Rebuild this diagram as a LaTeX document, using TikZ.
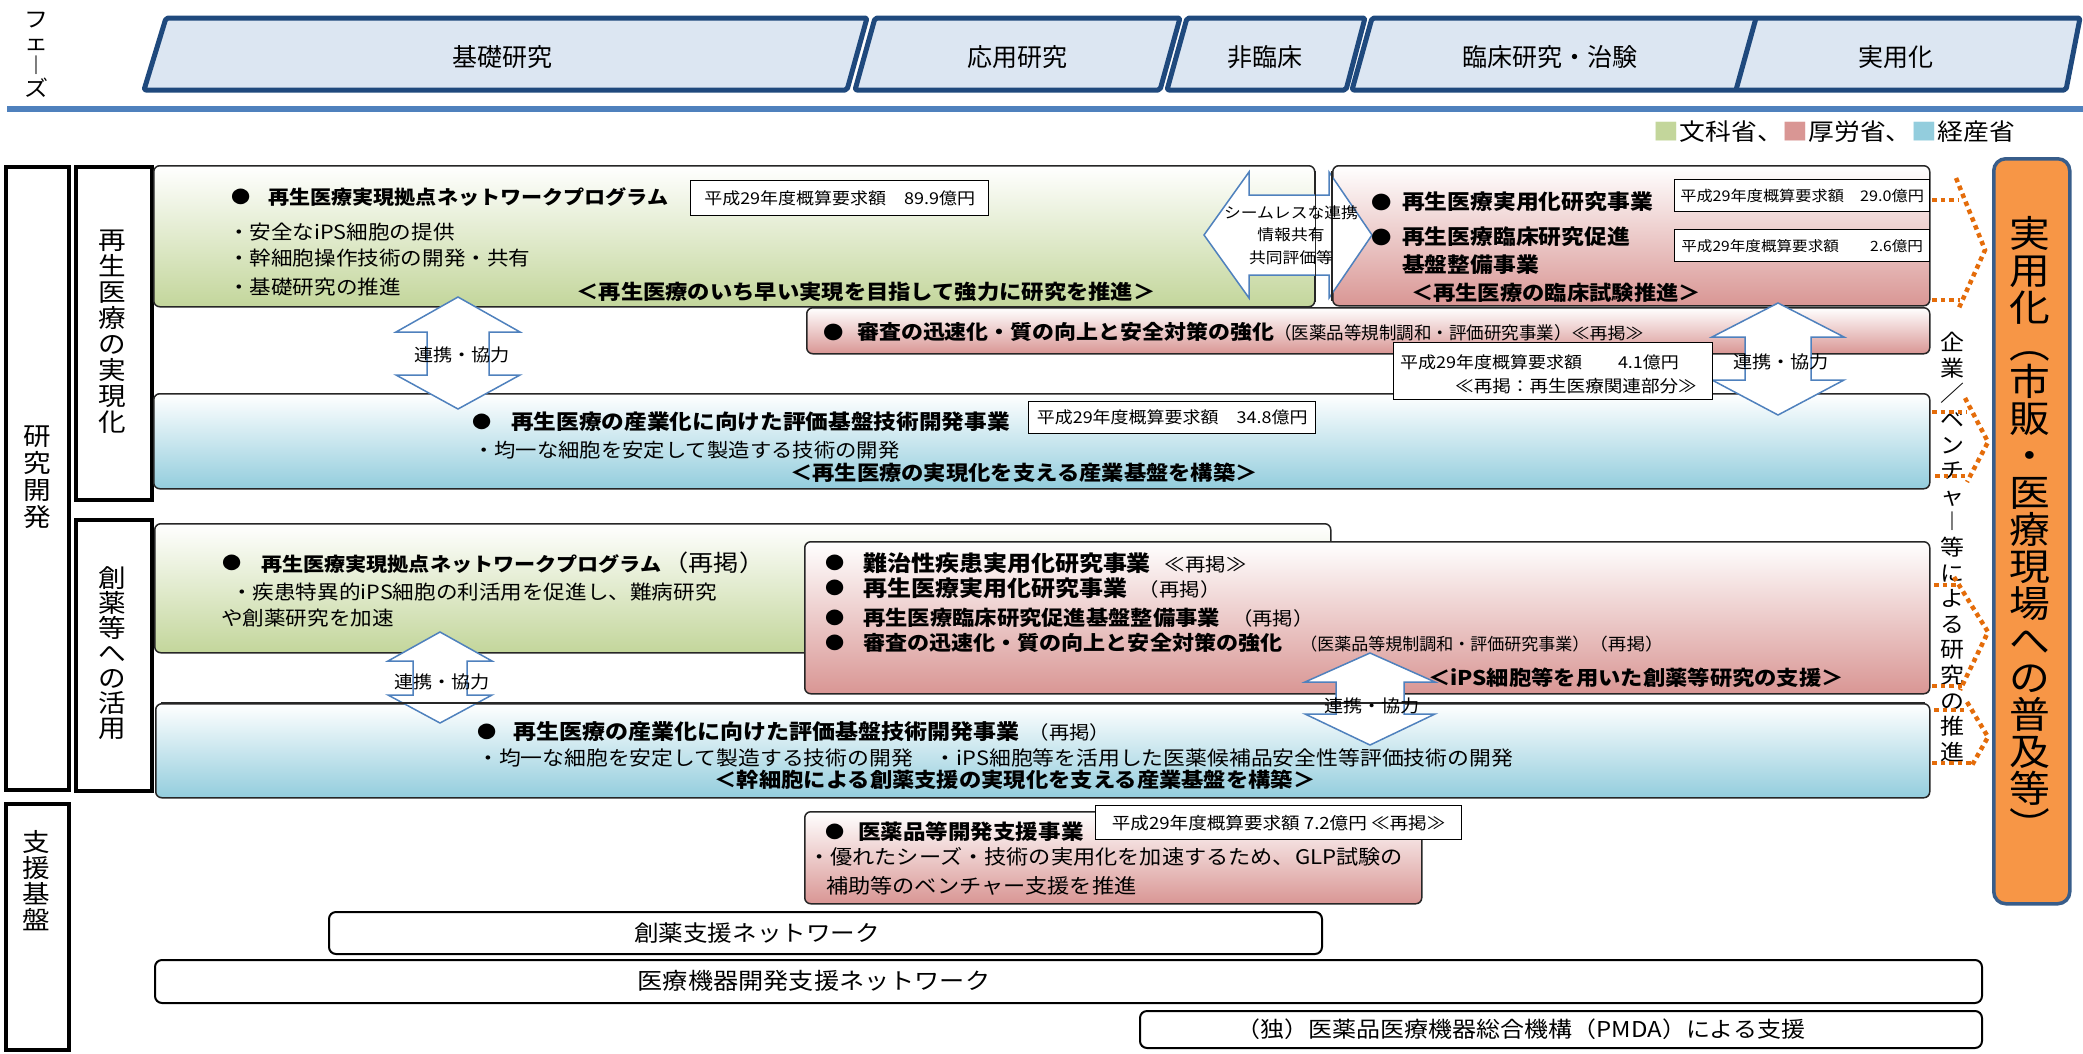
\documentclass[tikz,border=0pt]{standalone}
\usepackage{fontspec}
\setmainfont{Noto Sans CJK JP}
\newfontfamily\wide{Noto Sans CJK JP}[FakeStretch=1.1, Scale=1.09]
\definecolor{lgreen}{HTML}{C3D69B}
\definecolor{lpink}{HTML}{D99694}
\definecolor{lblue}{HTML}{93CDDD}
\definecolor{navy}{HTML}{1F497D}
\definecolor{phasefill}{HTML}{DCE6F2}
\definecolor{steel}{HTML}{4F81BD}
\definecolor{orangefill}{HTML}{F79646}
\definecolor{orangeedge}{HTML}{385D8A}
\definecolor{dotorange}{HTML}{E46C0A}
\tikzset{
 phase/.style={draw=navy, line width=5pt, fill=phasefill, rounded corners=2pt, line join=round},
 phtxt/.style={inner sep=0pt, font={\fontsize{25}{28}\selectfont}},
 labbox/.style={draw=black, line width=3.5pt, fill=white, anchor=north west, inner sep=0pt},
 vtxt/.style={align=center, inner sep=0pt},
 boxbase/.style={draw=black!85, line width=1.5pt, rounded corners=6pt, top color=white, anchor=north west, inner sep=0pt},
 gbox/.style={boxbase, bottom color=lgreen},
 pbox/.style={boxbase, bottom color=lpink},
 bbox/.style={boxbase, bottom color=lblue},
 wbox/.style={draw=black, line width=2pt, rounded corners=7pt, fill=white, anchor=north west, inner sep=0pt},
 bud/.style={draw=black, line width=1.3pt, fill=white, anchor=north west, inner sep=0pt, font={\wide\fontsize{15}{18}\selectfont}},
 budtxt/.style={inner sep=0pt, font={\wide\fontsize{15}{18}\selectfont}},
 bul/.style={inner sep=0pt, font={\wide\fontsize{16}{18}\selectfont}},
 tl/.style={anchor=west, inner sep=0pt, font={\wide\bfseries\fontsize{19}{22}\selectfont}},
 bd/.style={anchor=west, inner sep=0pt, font={\wide\fontsize{18}{22}\selectfont}},
 sl/.style={inner sep=0pt, font={\wide\bfseries\fontsize{18.6}{22}\selectfont}},
 arr/.style={draw=steel, line width=1.5pt, fill=white, line join=miter},
 arrtxt/.style={inner sep=0pt, font={\wide\fontsize{16}{19}\selectfont}},
 boxline/.style={draw=black!85, line width=1.5pt},
 dots/.style={draw=dotorange, line width=4.5pt, dash pattern=on 4.5pt off 4pt},
 bottxt/.style={inner sep=0pt, font={\wide\fontsize{21}{24}\selectfont}}
}
\begin{document}
\begin{tikzpicture}[x=1pt,y=-1pt]
\useasboundingbox (0,0) rectangle (2083,1053);

% ---------- phases ----------
\node[vtxt, font={\wide\fontsize{20}{23}\selectfont}] (phaselab) at (36,55) {フ\\ェ\\︱\\ズ};
\draw[phase] (144,90) -- (166,18) -- (867,18) -- (847,90) -- cycle;
\draw[phase] (855,90) -- (875,18) -- (1180,18) -- (1160,90) -- cycle;
\draw[phase] (1167,90) -- (1187,18) -- (1365,18) -- (1346,90) -- cycle;
\draw[phase] (1352,90) -- (1372,18) -- (2080,18) -- (2066,90) -- cycle;
\draw[phase, fill=none] (1756,18) -- (1736,90);
\node[phtxt] (ph1) at (502,57) {基礎研究};
\node[phtxt] (ph2) at (1017,57) {応用研究};
\node[phtxt] (ph3) at (1265,57) {非臨床};
\node[phtxt] (ph4) at (1550,57) {臨床研究・治験};
\node[phtxt] (ph5) at (1896,57) {実用化};
\draw[steel, line width=6pt] (7,109) -- (2083,109);
\node[anchor=east, inner sep=0pt, font={\wide\fontsize{21.5}{26}\selectfont}] (legend) at (2015,132)
 {{\color{lgreen}■}文科省、{\color{lpink}■}厚労省、{\color{lblue}■}経産省};

% ---------- left labels ----------
\node[labbox, minimum width=63pt, minimum height=623pt] (L0) at (4,165) {};
\node[labbox, minimum width=76pt, minimum height=333pt] (L1) at (74,165) {};
\node[labbox, minimum width=76pt, minimum height=271pt] (L2) at (74,518) {};
\node[labbox, minimum width=63pt, minimum height=246pt] (L3) at (4,802) {};
\node[vtxt, font={\wide\fontsize{23}{27}\selectfont}] (L0t) at (37,477) {研\\究\\開\\発};
\node[vtxt, font={\wide\fontsize{23}{26}\selectfont}] (L1t) at (112,332) {再\\生\\医\\療\\の\\実\\現\\化};
\node[vtxt, font={\wide\fontsize{23}{25}\selectfont}] (L2t) at (112,653) {創\\薬\\等\\へ\\の\\活\\用};
\node[vtxt, font={\wide\fontsize{23}{26}\selectfont}] (L3t) at (36,881) {支\\援\\基\\盤};

% ---------- boxes ----------
\node[gbox, minimum width=1161pt, minimum height=141pt] (g1) at (153,165) {};
\node[pbox, minimum width=597pt, minimum height=140pt] (p1) at (1332,165) {};
\node[pbox, minimum width=1123pt, minimum height=46pt] (ps) at (806,307) {};
\node[bbox, minimum width=1776pt, minimum height=95pt] (b1) at (153,393) {};
\node[gbox, minimum width=1176pt, minimum height=129pt] (g2) at (154,523) {};
\node[pbox, minimum width=1125pt, minimum height=152pt] (p2) at (804,541) {};
\node[bbox, minimum width=1774pt, minimum height=94pt] (b2) at (155,703) {};
\node[pbox, minimum width=617pt, minimum height=92pt] (p3) at (804,811) {};
\node[wbox, minimum width=993pt, minimum height=42pt] (n1) at (328,911) {};
\node[wbox, minimum width=1827pt, minimum height=43pt] (n2) at (154,959) {};
\node[wbox, minimum width=842pt, minimum height=37pt] (n3) at (1139,1010) {};
\node[draw=orangeedge, line width=3.5pt, fill=orangefill, rounded corners=12pt, anchor=north west, inner sep=0pt,
      minimum width=76pt, minimum height=745pt] (orange) at (1992,157) {};

% budget boxes
\node[bud, minimum width=298pt, minimum height=35pt] (bg1) at (690,180) {};
\node[budtxt] (bg1t) at (bg1.center) {平成29年度概算要求額　89.9億円};
\node[bud, minimum width=255pt, minimum height=32pt] (bp1) at (1674,179) {};
\node[budtxt, font={\wide\fontsize{13.5}{16}\selectfont}] (bp1t) at (bp1.center) {平成29年度概算要求額　29.0億円};
\node[bud, minimum width=255pt, minimum height=32pt] (bp2) at (1674,229) {};
\node[budtxt, font={\wide\fontsize{13}{16}\selectfont}] (bp2t) at (bp2.center) {平成29年度概算要求額　　2.6億円};
\node[bud, minimum width=287pt, minimum height=32pt] (b348) at (1028,401) {};
\node[budtxt] (b348t) at (b348.center) {平成29年度概算要求額　34.8億円};
\node[bud, minimum width=366pt, minimum height=34pt] (b72) at (1095,805) {};
\node[budtxt, font={\wide\fontsize{15.5}{18}\selectfont}] (b72t) at (b72.center) {平成29年度概算要求額 7.2億円 ≪再掲≫};

% ---------- arrows ----------
\draw[arr] (1204,235) -- (1249,172) -- (1249,195) -- (1329,195) -- (1329,172) -- (1372,235)
  -- (1329,298) -- (1329,275) -- (1249,275) -- (1249,298) -- cycle;
\draw[boxline] ([yshift=-6pt]g1.north east) -- ([yshift=6pt]g1.south east);
\draw[boxline] ([yshift=-6pt]p1.north west) -- ([yshift=6pt]p1.south west);
\node[align=center, inner sep=0pt, font={\wide\fontsize{14}{22.5}\selectfont}] (seamtxt) at (1291,235)
  {シームレスな連携\\情報共有\\共同評価等};

\draw[arr] (458,297) -- (520,332) -- (489,332) -- (489,375) -- (520,375) -- (458,409)
  -- (396,375) -- (427,375) -- (427,332) -- (396,332) -- cycle;
\node[arrtxt] (a1t) at (462,355) {連携・協力};

\draw[arr] (1778,303) -- (1844,337) -- (1811,337) -- (1811,380) -- (1844,380) -- (1778,415)
  -- (1712,380) -- (1745,380) -- (1745,337) -- (1712,337) -- cycle;
\node[arrtxt] (a2t) at (1781,362) {連携・協力};

\node[bud, minimum width=319pt, minimum height=57pt] (b41) at (1393,342) {};
\node[budtxt, anchor=west] (b41a) at (1400,362) {平成29年度概算要求額　　4.1億円};
\node[budtxt, anchor=east, font={\wide\fontsize{15.5}{18}\selectfont}] (b41b) at (1697,386) {≪再掲：再生医療関連部分≫};

\draw[arr] (440,632) -- (492,661) -- (467,661) -- (467,695) -- (492,695) -- (440,723)
  -- (388,695) -- (413,695) -- (413,661) -- (388,661) -- cycle;
\node[arrtxt] (a4t) at (442,682) {連携・協力};

\draw[arr] (1370,653) -- (1435,682) -- (1404,682) -- (1404,714) -- (1435,714) -- (1370,745)
  -- (1305,714) -- (1336,714) -- (1336,682) -- (1305,682) -- cycle;
\draw[boxline] ([xshift=6pt]b2.north west) -- ([xshift=-6pt]b2.north east);
\node[arrtxt] (a3t) at (1372,706) {連携・協力};

% ---------- texts: green box 1 ----------
\node[bul] (bu1) at (241,197) {●};
\node[tl, font={\wide\bfseries\fontsize{17.6}{22}\selectfont}] (t1) at (268,197) {再生医療実現拠点ネットワークプログラム};
\node[bd] (t1a) at (228,232) {・安全なiPS細胞の提供};
\node[bd] (t1b) at (228,258) {・幹細胞操作技術の開発・共有};
\node[bd] (t1c) at (228,287) {・基礎研究の推進};
\node[sl] (s1) at (866,292) {＜再生医療のいち早い実現を目指して強力に研究を推進＞};

% pink box 1
\node[bul, font={\wide\fontsize{17}{18}\selectfont}] (bu2) at (1382,202) {●};
\node[tl] (t2) at (1402,202) {再生医療実用化研究事業};
\node[bul, font={\wide\fontsize{17}{18}\selectfont}] (bu3) at (1382,237) {●};
\node[tl] (t3) at (1402,237) {再生医療臨床研究促進};
\node[tl] (t3b) at (1402,265) {基盤整備事業};
\node[sl] (s2) at (1556,293) {＜再生医療の臨床試験推進＞};

% shinsa box
\node[bul, font={\wide\fontsize{17}{18}\selectfont}] (bu4) at (834,332) {●};
\node[tl, font={\wide\bfseries\fontsize{18.3}{22}\selectfont}] (t4) at (857,332)
  {審査の迅速化・質の向上と安全対策の強化{\normalfont\fontsize{17.5}{18}\selectfont （医薬品等規制調和・評価研究事業）}{\mdseries\fontsize{15}{16}\selectfont ≪再掲≫}};

% blue box 1
\node[bul] (bu5) at (482,422) {●};
\node[tl, font={\wide\bfseries\fontsize{18.9}{22}\selectfont}] (t5) at (511,422) {再生医療の産業化に向けた評価基盤技術開発事業};
\node[bd, font={\wide\fontsize{17.8}{22}\selectfont}] (t5a) at (473,450) {・均一な細胞を安定して製造する技術の開発};
\node[sl] (s3) at (1024,473) {＜再生医療の実現化を支える産業基盤を構築＞};

% green box 2
\node[bul] (bu6) at (232,563) {●};
\node[tl, font={\wide\bfseries\fontsize{17.6}{22}\selectfont}] (t6) at (261,563)
  {再生医療実現拠点ネットワークプログラム\hspace{2pt}{\mdseries\fontsize{21}{22}\selectfont （再掲）}};
\node[bd] (t6a) at (231,592) {・疾患特異的iPS細胞の利活用を促進し、難病研究};
\node[bd] (t6b) at (221,618) {や創薬研究を加速};

% pink box 2
\node[bul] (bu7) at (835,563) {●};
\node[tl, font={\wide\bfseries\fontsize{20}{22}\selectfont}] (t7) at (863,563)
  {難治性疾患実用化研究事業\hspace{14pt}{\mdseries\fontsize{17}{18}\selectfont ≪再掲≫}};
\node[bul] (bu8) at (835,588) {●};
\node[tl, font={\wide\bfseries\fontsize{20}{22}\selectfont}] (t8) at (863,588)
  {再生医療実用化研究事業\hspace{12pt}{\mdseries\fontsize{17}{18}\selectfont （再掲）}};
\node[bul] (bu9) at (835,618) {●};
\node[tl, font={\wide\bfseries\fontsize{18.6}{22}\selectfont}] (t9) at (863,618)
  {再生医療臨床研究促進基盤整備事業\hspace{12pt}{\mdseries\fontsize{17}{18}\selectfont （再掲）}};
\node[bul] (bu10) at (835,643) {●};
\node[tl, font={\wide\bfseries\fontsize{18.4}{22}\selectfont}] (t10) at (863,643)
  {審査の迅速化・質の向上と安全対策の強化\hspace{18pt}{\normalfont\fontsize{17}{18}\selectfont （医薬品等規制調和・評価研究事業）}{\mdseries\fontsize{15.5}{16}\selectfont （再掲）}};
\node[sl] (s4) at (1636,678) {＜iPS細胞等を用いた創薬等研究の支援＞};

% blue box 2
\node[bul] (bu11) at (487,732) {●};
\node[tl, font={\wide\bfseries\fontsize{19.2}{22}\selectfont}] (t11) at (513,732)
  {再生医療の産業化に向けた評価基盤技術開発事業\hspace{9pt}{\mdseries\fontsize{17}{18}\selectfont （再掲）}};
\node[bd, font={\wide\fontsize{18.2}{22}\selectfont}] (t11a) at (477,758)
  {・均一な細胞を安定して製造する技術の開発　・iPS細胞等を活用した医薬候補品安全性等評価技術の開発};
\node[sl] (s5) at (1015,780) {＜幹細胞による創薬支援の実現化を支える産業基盤を構築＞};

% pink box 3
\node[bul] (bu12) at (835,832) {●};
\node[tl, font={\wide\bfseries\fontsize{18.8}{22}\selectfont}] (t12) at (858,832) {医薬品等開発支援事業};
\node[bd, font={\wide\fontsize{18.5}{22}\selectfont}] (t12a) at (808,857) {・優れたシーズ・技術の実用化を加速するため、GLP試験の};
\node[bd, font={\wide\fontsize{18.5}{22}\selectfont}] (t12b) at (826,886) {補助等のベンチャー支援を推進};

% bottom boxes
\node[bottxt, font={\wide\fontsize{20.5}{24}\selectfont}] (n1t) at (757,933) {創薬支援ネットワーク};
\node[bottxt] (n2t) at (814,981) {医療機器開発支援ネットワーク};
\node[bottxt, font={\wide\fontsize{20}{24}\selectfont}] (n3t) at (1521,1029) {（独）医薬品医療機器総合機構（PMDA）による支援};

% orange
\node[vtxt, font={\wide\fontsize{34}{37}\selectfont}] (orangetxt) at (2030,528)
  {実\\用\\化\\︵\\市\\販\\・\\医\\療\\現\\場\\へ\\の\\普\\及\\等\\︶};

% company text and dotted chevrons
\node[vtxt, font={\wide\fontsize{20}{25.6}\selectfont}] (corp) at (1952,547)
  {企\\業\\／\\ベ\\ン\\チ\\ャ\\︱\\等\\に\\よ\\る\\研\\究\\の\\推\\進};
\draw[dots] (1932,200) -- (1958,200);
\draw[dots] (1932,300) -- (1960,300);
\draw[dots] (1956,178) -- (1985,250) -- (1958,310);
\draw[dots] (1932,412) -- (1967,412);
\draw[dots] (1935,476) -- (1967,476);
\draw[dots] (1965,398) -- (1988,442) -- (1967,482);
\draw[dots] (1934,585) -- (1958,585);
\draw[dots] (1932,686) -- (1963,686);
\draw[dots] (1954,577) -- (1988,632) -- (1960,690);
\draw[dots] (1934,710) -- (1967,710);
\draw[dots] (1932,763) -- (1972,763);
\draw[dots] (1967,702) -- (1988,737) -- (1971,767);
\end{tikzpicture}
\end{document}
